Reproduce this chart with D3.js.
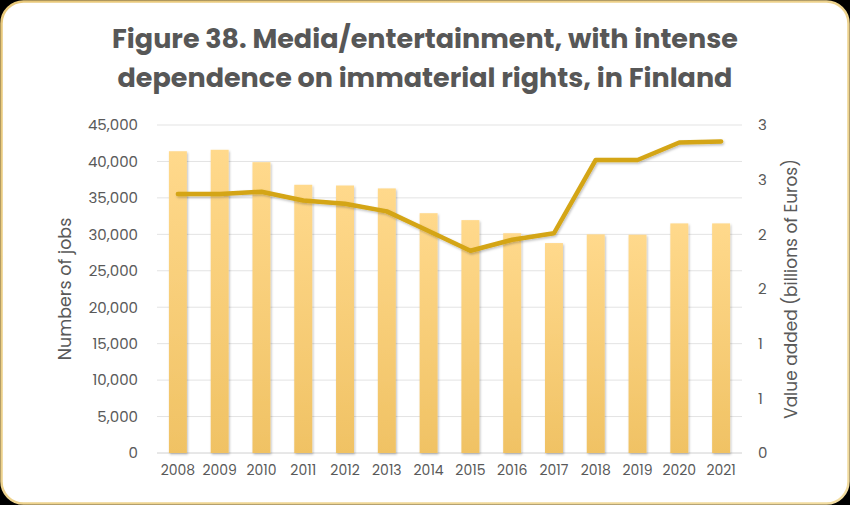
<!DOCTYPE html>
<html><head><meta charset="utf-8">
<script src="https://cdn.jsdelivr.net/npm/d3@7"></script>
<style>
html,body{margin:0;padding:0;background:#000;}
svg{display:block;}
</style></head>
<body>
<svg id="chart" width="850" height="505"></svg>
<script>
const years = ["2008","2009","2010","2011","2012","2013","2014","2015","2016","2017","2018","2019","2020","2021"];
const jobs = [41400,41600,39900,36800,36700,36300,32900,31950,30150,28800,30000,29950,31500,31500];
const valueAdded = [2.37,2.37,2.39,2.31,2.28,2.21,2.03,1.85,1.95,2.01,2.68,2.68,2.84,2.85];
const leftTicks = [0,5000,10000,15000,20000,25000,30000,35000,40000,45000];
const rightTicks = [0,0.5,1,1.5,2,2.5,3];
const titleLines = ["Figure 38. Media/entertainment, with intense","dependence on immaterial rights, in Finland"];

const svg = d3.select("#chart");
const W = 850, H = 505;
const font = "Poppins, 'Noto Sans', 'Open Sans', sans-serif";
const defs = svg.append("defs");

// card
const bg = defs.append("linearGradient").attr("id","border").attr("x1","0").attr("y1","0").attr("x2","1").attr("y2","1");
bg.append("stop").attr("offset","0").attr("stop-color","#e8c87a");
bg.append("stop").attr("offset","1").attr("stop-color","#f2dca0");
svg.append("rect").attr("x",1.5).attr("y",1.5).attr("width",W-3).attr("height",H-3)
  .attr("rx",22).attr("fill","#fff").attr("stroke","url(#border)").attr("stroke-width",2.5);

const barGrad = defs.append("linearGradient").attr("id","barGrad").attr("x1","0").attr("y1","0").attr("x2","0").attr("y2","1");
barGrad.append("stop").attr("offset","0").attr("stop-color","#ffd98c");
barGrad.append("stop").attr("offset","1").attr("stop-color","#f0c264");

const shadow = defs.append("filter").attr("id","shadow").attr("x","-20%").attr("y","-20%").attr("width","140%").attr("height","140%");
shadow.append("feDropShadow").attr("dx",1).attr("dy",1.5).attr("stdDeviation",1.2).attr("flood-color","#000").attr("flood-opacity",0.25);

// title
svg.append("g").selectAll("text").data(titleLines).join("text")
  .attr("x",425).attr("y",(d,i)=>48+i*39)
  .attr("text-anchor","middle").attr("font-family",font).attr("font-weight",700)
  .attr("font-size",27).attr("fill","#575757").text(d=>d);

const m = {left:157, right:742, top:125, bottom:453};
const x = d3.scaleBand().domain(years).range([m.left,m.right]).paddingInner(0.57).paddingOuter(0.285);
const yL = d3.scaleLinear().domain([0,45000]).range([m.bottom,m.top]);
const yR = d3.scaleLinear().domain([0,3]).range([m.bottom,m.top]);

// grid
svg.append("g").selectAll("line").data(leftTicks).join("line")
  .attr("x1",m.left).attr("x2",m.right).attr("y1",d=>yL(d)).attr("y2",d=>yL(d))
  .attr("stroke",d=>d===0?"#d0d0d0":"#e3e3e3").attr("stroke-width",1);

// left axis
const axL = svg.append("g").attr("transform",`translate(${m.left},0)`)
  .call(d3.axisLeft(yL).tickValues(leftTicks).tickFormat(d3.format(",")).tickSize(0).tickPadding(19));
axL.select(".domain").remove();
axL.selectAll("text").attr("font-family",font).attr("font-size",15).attr("fill","#595959");

// right axis
const axR = svg.append("g").attr("transform",`translate(${m.right},0)`)
  .call(d3.axisRight(yR).tickValues(rightTicks).tickFormat(d=>Math.round(d+1e-9)).tickSize(0).tickPadding(16));
axR.select(".domain").remove();
axR.selectAll("text").attr("font-family",font).attr("font-size",15).attr("fill","#595959");

// bottom axis
const axB = svg.append("g").attr("transform",`translate(0,${m.bottom})`)
  .call(d3.axisBottom(x).tickSize(0).tickPadding(12));
axB.select(".domain").remove();
axB.selectAll("text").attr("font-family",font).attr("font-size",14).attr("fill","#595959");

// bars
svg.append("g").selectAll("rect").data(years).join("rect")
  .attr("x",d=>x(d)).attr("width",x.bandwidth())
  .attr("y",(d,i)=>yL(jobs[i])).attr("height",(d,i)=>yL(0)-yL(jobs[i]))
  .attr("fill","url(#barGrad)").attr("filter","url(#shadow)");

// line
const line = d3.line().x((d,i)=>x(years[i])+x.bandwidth()/2).y(d=>yR(d));
svg.append("path").datum(valueAdded).attr("d",line)
  .attr("fill","none").attr("stroke","#d4a514").attr("stroke-width",4.5)
  .attr("stroke-linejoin","round").attr("stroke-linecap","round").attr("filter","url(#shadow)");

// axis titles
svg.append("text").attr("transform",`translate(71,${(m.top+m.bottom)/2}) rotate(-90)`)
  .attr("text-anchor","middle").attr("font-family",font).attr("font-size",17.5).attr("fill","#595959").text("Numbers of jobs");
svg.append("text").attr("transform",`translate(797,${(m.top+m.bottom)/2}) rotate(-90)`)
  .attr("text-anchor","middle").attr("font-family",font).attr("font-size",17).attr("fill","#595959").text("Value added (billions of Euros)");
</script>
</body></html>
